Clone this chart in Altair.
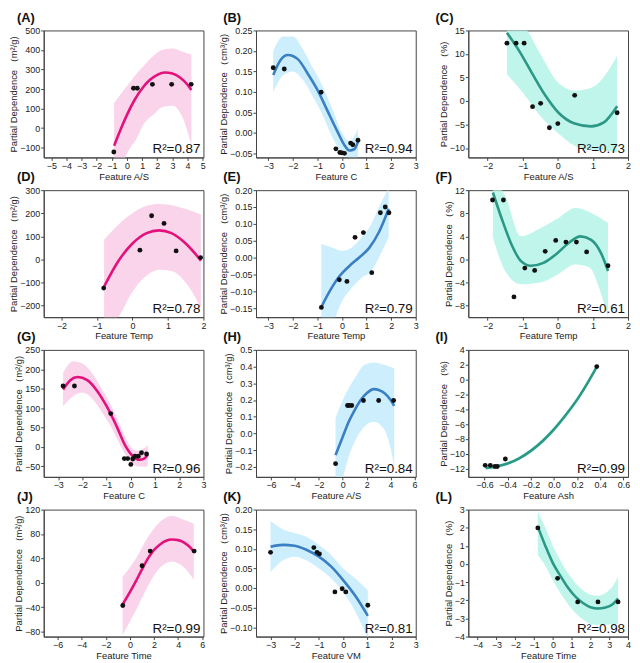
import altair as alt
import pandas as pd

PINK, PINK_BAND = "#E3117C", "#F9CDE6"
BLUE, BLUE_BAND = "#3A7EC4", "#C4EBFB"
TEAL, TEAL_BAND = "#2A9885", "#B5F3E7"

Y_M2 = "Partial Dependence （m²/g)"
Y_CM3 = "Partial Dependence （cm³/g)"
Y_PCT = "Partial Dependence （%)"

# ---------------- (A) ----------------
A_px = [-0.87, 0.43, 0.68, 1.68, 2.95, 4.24]
A_py = [-122, 204, 204, 224, 224, 224]
A_cx = [-0.85, -0.4, 0, 0.5, 1.0, 1.5, 2.0, 2.5, 3.0, 3.5, 4.0, 4.25]
A_cy = [-90, -3, 68, 144, 203, 246, 273, 285, 280, 259, 222, 195]
A_bx = [-0.85, 0, 0.65, 1.1, 1.75, 2.4, 3.0, 3.7, 4.25]
A_hi = [128, 215, 280, 318, 370, 402, 407, 390, 377]
A_lo = [-300, -130, -50, 20, 70, 110, 115, 50, -85]
# ---------------- (B) ----------------
B_px = [-2.8, -2.35, -0.85, -0.25, -0.09, 0.0, 0.1, 0.35, 0.44, 0.65]
B_py = [0.159, 0.156, 0.099, -0.039, -0.048, -0.049, -0.05, -0.025, -0.029, -0.018]
B_cx = [-2.8, -2.5, -2.2, -1.8, -1.4, -1.0, -0.6, -0.2, 0.1, 0.3, 0.5, 0.65]
B_cy = [0.141, 0.178, 0.19, 0.18, 0.145, 0.105, 0.055, 0.005, -0.03, -0.043, -0.04, -0.022]
B_bx = [-2.8, -2.4, -2.0, -1.6, -1.2, -0.8, -0.4, 0.0, 0.3, 0.65]
B_hi = [0.2, 0.235, 0.235, 0.205, 0.16, 0.115, 0.06, 0.0, -0.02, 0.01]
B_lo = [0.1, 0.14, 0.15, 0.13, 0.09, 0.045, -0.01, -0.05, -0.06, -0.06]
# ---------------- (C) ----------------
C_px = [-1.45, -1.19, -0.96, -0.72, -0.49, -0.24, 0.0, 0.48, 1.69]
C_py = [12.3, 12.3, 12.3, -1.2, -0.5, -5.7, -4.8, 1.2, -2.5]
C_cx = [-1.45, -1.08, -0.72, -0.35, 0.02, 0.48, 0.94, 1.3, 1.69]
C_cy = [14.5, 10.4, 5.7, 1.1, -2.5, -4.8, -5.4, -4.6, -1.1]
C_bx = [-1.45, -1.0, -0.5, 0.0, 0.5, 1.0, 1.3, 1.69]
C_hi = [17, 16, 10, 4, 2.2, 3, 5, 9.6]
C_lo = [5.7, 1.8, -3.2, -6.8, -9.6, -10.4, -10.5, -11]
# ---------------- (D) ----------------
D_px = [-0.81, 0.21, 0.54, 0.89, 1.23, 1.92]
D_py = [-124, 40, 189, 156, 37, 8]
D_cx = [-0.8, -0.4, 0, 0.4, 0.75, 1.1, 1.5, 1.93]
D_cy = [-118, -8, 69, 114, 126, 114, 69, -5]
D_bx = [-0.8, -0.4, 0, 0.4, 0.75, 1.1, 1.5, 1.93]
D_hi = [85, 150, 200, 232, 240, 235, 218, 195]
D_lo = [-300, -250, -140, -70, -45, -50, -100, -210]
# ---------------- (E) ----------------
E_px = [-0.84, -0.11, 0.2, 0.53, 0.87, 1.21, 1.56, 1.76, 1.91]
E_py = [-0.148, -0.066, -0.071, 0.06, 0.074, -0.045, 0.133, 0.15, 0.133]
E_cx = [-0.84, -0.5, -0.1, 0.3, 0.7, 1.1, 1.5, 1.9]
E_cy = [-0.147, -0.1, -0.055, -0.025, 0.0, 0.028, 0.075, 0.145]
E_bx = [-0.84, -0.4, 0.0, 0.4, 0.8, 1.2, 1.5, 1.9]
E_hi = [0.04, 0.03, 0.02, 0.03, 0.06, 0.1, 0.15, 0.205]
E_lo = [-0.25, -0.2, -0.13, -0.09, -0.06, -0.04, 0.0, 0.06]
# ---------------- (F) ----------------
F_px = [-1.86, -1.55, -1.25, -0.94, -0.66, -0.36, -0.06, 0.23, 0.53, 0.82, 1.43]
F_py = [10.3, 10.3, -6.5, -1.5, -1.9, 1.4, 3.3, 3.0, 3.0, 1.3, -1.1]
F_cx = [-1.85, -1.6, -1.32, -1.05, -0.77, -0.41, -0.05, 0.32, 0.64, 0.95, 1.23, 1.43]
F_cy = [11.6, 7.1, 2.6, -0.3, -1.1, -0.6, 0.9, 2.9, 4.0, 3.4, 1.1, -2.0]
F_bx = [-1.85, -1.5, -1.05, -0.5, 0.0, 0.5, 0.9, 1.2, 1.43]
F_hi = [14, 11, 4, 5.4, 7.1, 8.9, 8.2, 7.2, 6.3]
F_lo = [3.8, -2, -4.3, -4, -2.6, -0.9, -1.4, -5.4, -10]
# ---------------- (G) ----------------
G_px = [-2.8, -2.33, -0.83, -0.27, -0.13, 0.0, 0.08, 0.17, 0.31, 0.44, 0.65]
G_py = [157, 157, 86, -30, -30, -45, -31, -24, -24, -15, -18]
G_cx = [-2.8, -2.5, -2.2, -1.8, -1.4, -1.0, -0.6, -0.2, 0.1, 0.35, 0.55, 0.7]
G_cy = [148, 172, 180, 172, 145, 105, 55, 0, -25, -33, -30, -20]
G_bx = [-2.8, -2.4, -2.0, -1.6, -1.2, -0.8, -0.4, 0.0, 0.3, 0.7]
G_hi = [190, 220, 215, 190, 150, 105, 50, 0, -10, 5]
G_lo = [105, 130, 140, 125, 90, 50, 0, -40, -50, -50]
# ---------------- (H) ----------------
H_px = [-0.6, 0.4, 0.53, 0.75, 1.73, 3.0, 4.25]
H_py = [-0.181, 0.167, 0.167, 0.167, 0.197, 0.197, 0.197]
H_cx = [-0.6, 0, 0.5, 1, 1.5, 2, 2.6, 3, 3.5, 4, 4.3]
H_cy = [-0.13, -0.02, 0.07, 0.14, 0.2, 0.24, 0.265, 0.26, 0.24, 0.2, 0.165]
H_bx = [-0.6, 0, 0.5, 1, 1.8, 2.6, 3.5, 4.3]
H_hi = [0.093, 0.2, 0.27, 0.33, 0.41, 0.425, 0.41, 0.39]
H_lo = [-0.4, -0.27, -0.14, -0.05, 0.04, 0.07, 0.02, -0.19]
# ---------------- (I) ----------------
I_px = [-0.594, -0.55, -0.51, -0.49, -0.42, 0.37]
I_py = [-11.55, -11.55, -11.7, -11.7, -10.7, 1.75]
I_cx = [-0.59, -0.5, -0.4, -0.3, -0.2, -0.1, 0, 0.1, 0.2, 0.3, 0.37]
I_cy = [-11.9, -11.7, -11.3, -10.6, -9.6, -8.3, -6.7, -4.8, -2.7, -0.2, 1.7]
I_bx = [-0.59, -0.4, -0.2, 0, 0.2, 0.37]
I_hi = [-11.6, -11.05, -9.3, -6.35, -2.35, 2.0]
I_lo = [-12.2, -11.55, -9.9, -7.05, -3.05, 1.4]
# ---------------- (J) ----------------
J_px = [-0.59, 1.01, 1.68, 5.33]
J_py = [-37, 28, 52, 52]
J_cx = [-0.6, 0, 0.5, 1, 1.5, 2, 2.5, 3, 3.5, 4, 4.5, 5, 5.3]
J_cy = [-35, -15, 3, 22, 40, 54, 63, 69, 71, 70, 66, 58, 51]
J_bx = [-0.6, 0.5, 1.5, 2.5, 3.5, 4.5, 5.3]
J_hi = [10, 40, 75, 100, 110, 103, 97]
J_lo = [-85, -45, -5, 25, 35, 25, 5]
# ---------------- (K) ----------------
K_px = [-3.0, -1.21, -1.08, -0.98, -0.34, -0.04, 0.11, 1.02]
K_py = [0.091, 0.103, 0.091, 0.087, -0.01, -0.002, -0.01, -0.044]
K_cx = [-3, -2.5, -2, -1.5, -1, -0.5, 0, 0.5, 1.02]
K_cy = [0.105, 0.11, 0.108, 0.097, 0.08, 0.055, 0.02, -0.02, -0.071]
K_bx = [-3, -2.5, -2, -1.5, -1, -0.5, 0, 0.5, 1.02]
K_hi = [0.171, 0.15, 0.14, 0.13, 0.11, 0.085, 0.05, 0.025, -0.006]
K_lo = [0.04, 0.07, 0.08, 0.07, 0.05, 0.025, -0.01, -0.06, -0.13]
# ---------------- (L) ----------------
L_px = [-0.8, 0.25, 1.32, 2.4, 3.47]
L_py = [1.99, -0.79, -2.09, -2.09, -2.09]
L_cx = [-0.8, -0.4, 0, 0.4, 0.8, 1.2, 1.6, 2.0, 2.4, 2.8, 3.2, 3.47]
L_cy = [2.05, 1.0, 0.05, -0.65, -1.3, -1.8, -2.15, -2.38, -2.45, -2.4, -2.2, -1.9]
L_bx = [-0.8, -0.4, 0, 0.4, 0.8, 1.2, 1.6, 2.0, 2.4, 2.8, 3.2, 3.47]
L_hi = [2.9, 2.0, 1.0, 0.2, -0.5, -1.05, -1.45, -1.7, -1.75, -1.6, -1.2, -0.7]
L_lo = [0.5, -0.1, -0.9, -1.6, -2.2, -2.7, -3.05, -3.3, -3.35, -3.35, -3.3, -3.3]

panels = [
    dict(lab="(A)", xt="Feature A/S", yt=Y_M2, xd=[-5.5, 5.05], yd=[-150, 500],
         xv=list(range(-5, 6)), yv=[-100, 0, 100, 200, 300, 400, 500], xf="d", yf="d",
         c=PINK, b=PINK_BAND, p=(A_px, A_py), cu=(A_cx, A_cy), bd=(A_bx, A_lo, A_hi), r2="R²=0.87"),
    dict(lab="(B)", xt="Feature C", yt=Y_CM3, xd=[-3.5, 3.0], yd=[-0.06, 0.25],
         xv=list(range(-3, 4)), yv=[-0.05, 0, 0.05, 0.1, 0.15, 0.2, 0.25], xf="d", yf=".2f",
         c=BLUE, b=BLUE_BAND, p=(B_px, B_py), cu=(B_cx, B_cy), bd=(B_bx, B_lo, B_hi), r2="R²=0.94"),
    dict(lab="(C)", xt="Feature A/S", yt=Y_PCT, xd=[-2.55, 2.0], yd=[-12, 15],
         xv=[-2, -1, 0, 1, 2], yv=[-10, -5, 0, 5, 10, 15], xf="d", yf="d",
         c=TEAL, b=TEAL_BAND, p=(C_px, C_py), cu=(C_cx, C_cy), bd=(C_bx, C_lo, C_hi), r2="R²=0.73"),
    dict(lab="(D)", xt="Feature Temp", yt=Y_M2, xd=[-2.5, 2.0], yd=[-250, 300],
         xv=[-2, -1, 0, 1, 2], yv=[-200, -100, 0, 100, 200, 300], xf="d", yf="d",
         c=PINK, b=PINK_BAND, p=(D_px, D_py), cu=(D_cx, D_cy), bd=(D_bx, D_lo, D_hi), r2="R²=0.78"),
    dict(lab="(E)", xt="Feature Temp", yt=Y_CM3, xd=[-3.5, 3.0], yd=[-0.177, 0.2],
         xv=list(range(-3, 4)), yv=[-0.15, -0.1, -0.05, 0, 0.05, 0.1, 0.15, 0.2], xf="d", yf=".2f",
         c=BLUE, b=BLUE_BAND, p=(E_px, E_py), cu=(E_cx, E_cy), bd=(E_bx, E_lo, E_hi), r2="R²=0.79"),
    dict(lab="(F)", xt="Feature Temp", yt=Y_PCT, xd=[-2.55, 2.0], yd=[-10, 12],
         xv=[-2, -1, 0, 1, 2], yv=[-8, -4, 0, 4, 8, 12], xf="d", yf="d",
         c=TEAL, b=TEAL_BAND, p=(F_px, F_py), cu=(F_cx, F_cy), bd=(F_bx, F_lo, F_hi), r2="R²=0.61"),
    dict(lab="(G)", xt="Feature C", yt=Y_M2, xd=[-3.6, 3.0], yd=[-77, 250],
         xv=list(range(-3, 4)), yv=[-50, 0, 50, 100, 150, 200, 250], xf="d", yf="d",
         c=PINK, b=PINK_BAND, p=(G_px, G_py), cu=(G_cx, G_cy), bd=(G_bx, G_lo, G_hi), r2="R²=0.96"),
    dict(lab="(H)", xt="Feature A/S", yt=Y_CM3, xd=[-7.25, 6.1], yd=[-0.26, 0.5],
         xv=[-6, -4, -2, 0, 2, 4, 6], yv=[-0.2, -0.1, 0, 0.1, 0.2, 0.3, 0.4, 0.5], xf="d", yf=".1f",
         c=BLUE, b=BLUE_BAND, p=(H_px, H_py), cu=(H_cx, H_cy), bd=(H_bx, H_lo, H_hi), r2="R²=0.84"),
    dict(lab="(I)", xt="Feature Ash", yt=Y_PCT, xd=[-0.74, 0.64], yd=[-13.1, 4],
         xv=[-0.6, -0.4, -0.2, 0, 0.2, 0.4, 0.6], yv=[-12, -10, -8, -6, -4, -2, 0, 2, 4], xf=".1f", yf="d",
         c=TEAL, b=TEAL_BAND, p=(I_px, I_py), cu=(I_cx, I_cy), bd=(I_bx, I_lo, I_hi), r2="R²=0.99"),
    dict(lab="(J)", xt="Feature Time", yt=Y_M2, xd=[-7.15, 6.1], yd=[-88, 120],
         xv=[-6, -4, -2, 0, 2, 4, 6], yv=[-80, -40, 0, 40, 80, 120], xf="d", yf="d",
         c=PINK, b=PINK_BAND, p=(J_px, J_py), cu=(J_cx, J_cy), bd=(J_bx, J_lo, J_hi), r2="R²=0.99"),
    dict(lab="(K)", xt="Feature VM", yt=Y_CM3, xd=[-3.6, 3.0], yd=[-0.124, 0.2],
         xv=list(range(-3, 4)), yv=[-0.1, -0.05, 0, 0.05, 0.1, 0.15, 0.2], xf="d", yf=".2f",
         c=BLUE, b=BLUE_BAND, p=(K_px, K_py), cu=(K_cx, K_cy), bd=(K_bx, K_lo, K_hi), r2="R²=0.81"),
    dict(lab="(L)", xt="Feature Time", yt=Y_PCT, xd=[-4.5, 4.0], yd=[-4, 3],
         xv=list(range(-4, 5)), yv=[-4, -3, -2, -1, 0, 1, 2, 3], xf="d", yf="d",
         c=TEAL, b=TEAL_BAND, p=(L_px, L_py), cu=(L_cx, L_cy), bd=(L_bx, L_lo, L_hi), r2="R²=0.98"),
]

W, H = 161, 128
FONT = "Liberation Sans"
AX = "#444444"


def panel(i, d):
    col = i % 3
    xs = alt.Scale(domain=d["xd"], nice=False, zero=False)
    ys = alt.Scale(domain=d["yd"], nice=False, zero=False)
    xax = alt.Axis(values=d["xv"], format=d["xf"], title=d["xt"], tickSize=3,
                   labelFlush=False, labelOverlap=False, labelBound=False, grid=False,
                   tickCount=len(d["xv"]))
    yax = alt.Axis(values=d["yv"], format=d["yf"], title=d["yt"], tickSize=3,
                   labelOverlap=False, labelBound=False, grid=False,
                   tickCount=len(d["yv"]))
    X = lambda: alt.X("x:Q", scale=xs, axis=xax)
    bdf = pd.DataFrame({"x": d["bd"][0], "lo": d["bd"][1], "hi": d["bd"][2]})
    cdf = pd.DataFrame({"x": d["cu"][0], "y": d["cu"][1]})
    pdf = pd.DataFrame({"x": d["p"][0], "y": d["p"][1]})
    tdf = pd.DataFrame({"t": [d["r2"]]})
    band = alt.Chart(bdf).mark_area(color=d["b"], opacity=0.85, interpolate="monotone", clip=True).encode(
        x=X(), y=alt.Y("lo:Q", scale=ys, axis=yax), y2="hi:Q")
    line = alt.Chart(cdf).mark_line(color=d["c"], strokeWidth=2.6, interpolate="monotone", clip=True).encode(
        x=X(), y=alt.Y("y:Q", scale=ys, axis=yax))
    pts = alt.Chart(pdf).mark_circle(color="#111111", size=24, opacity=1, clip=True).encode(
        x=X(), y=alt.Y("y:Q", scale=ys, axis=yax))
    txt = alt.Chart(tdf).mark_text(align="right", baseline="alphabetic", fontSize=13.5, font=FONT,
                                   color="#111111").encode(
        x=alt.value(W - 3), y=alt.value(H - 4), text="t:N")
    dx = -27 if col == 0 else -33
    return alt.layer(band, line, pts, txt).properties(
        width=W, height=H,
        title=alt.TitleParams(d["lab"], anchor="start", frame="group", dx=dx, offset=2,
                              fontSize=13, fontWeight="bold", font=FONT, color="#111111"))


chart = alt.concat(*[panel(i, d) for i, d in enumerate(panels)], columns=3,
                   spacing={"row": 33, "column": 53}, bounds="flush").properties(
    padding={"left": 0, "top": 0, "right": 0, "bottom": 0}
).configure_view(stroke=AX, strokeWidth=1).configure_axis(
    domainColor=AX, tickColor=AX, labelColor="#222222", titleColor="#222222",
    labelFont=FONT, titleFont=FONT, labelFontSize=9, titleFontSize=9.5,
    titleFontWeight="normal", labelPadding=1, titlePadding=1, labelOverlap=False
)

chart.save("out.html", embed_options={"renderer": "svg", "actions": False})
